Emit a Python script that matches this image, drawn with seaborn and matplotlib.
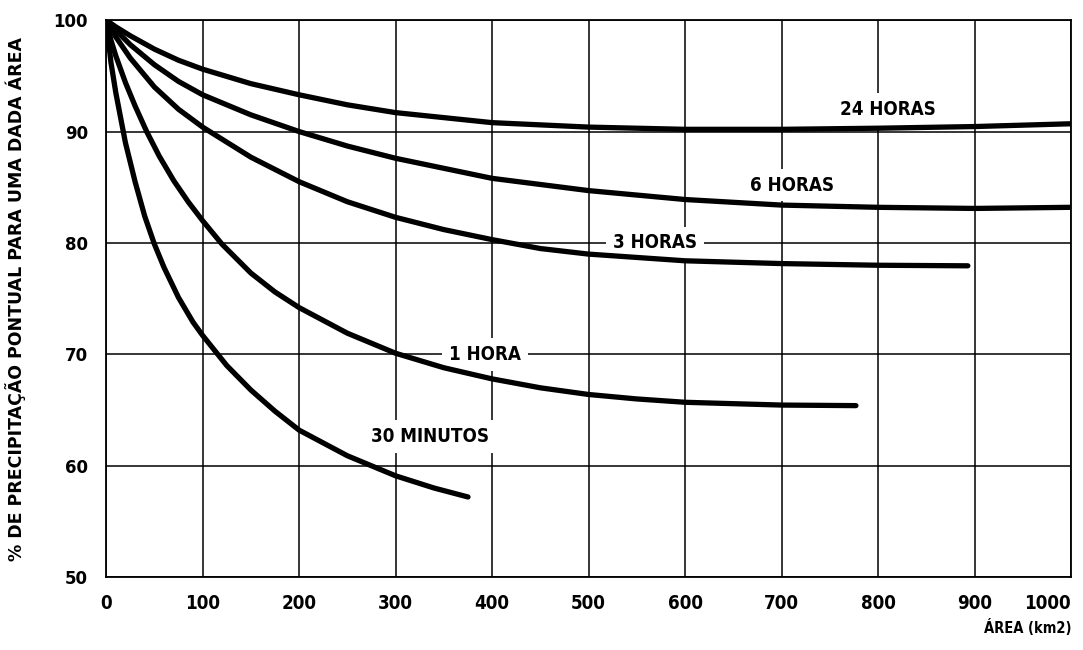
"""Redução da precipitação pontual com a área, por duração da chuva."""

import matplotlib

matplotlib.use("Agg")

import matplotlib.pyplot as plt
import pandas as pd
import seaborn as sns
from matplotlib import font_manager

# --------------------------------------------------------------------------- #
# dados
# --------------------------------------------------------------------------- #
area_30min = [0, 5, 10, 20, 30, 40, 50, 60, 75, 90, 100, 125, 150, 175, 200, 250, 300, 340, 375]
pct_30min = [100, 96.2, 93.5, 89.0, 85.5, 82.4, 79.9, 77.8, 75.1, 72.9, 71.7, 69.0, 66.8, 64.9,
             63.2, 60.9, 59.1, 58.0, 57.2]

area_1h = [0, 5, 10, 20, 30, 42, 55, 70, 85, 100, 120, 150, 175, 200, 250, 300, 350, 400, 450,
           500, 550, 600, 700, 777]
pct_1h = [100, 98.2, 96.8, 94.4, 92.3, 90.0, 87.8, 85.6, 83.7, 82.0, 79.9, 77.3, 75.6, 74.2,
          71.9, 70.1, 68.8, 67.8, 67.0, 66.4, 66.0, 65.7, 65.45, 65.4]

area_3h = [0, 10, 25, 50, 75, 100, 150, 200, 250, 300, 350, 400, 450, 500, 600, 700, 800, 893]
pct_3h = [100, 98.5, 96.6, 94.0, 92.0, 90.4, 87.7, 85.5, 83.7, 82.3, 81.2, 80.3, 79.5, 79.0,
          78.4, 78.15, 78.0, 77.95]

area_6h = [0, 10, 25, 50, 75, 100, 150, 200, 250, 300, 400, 500, 600, 700, 800, 900, 1000]
pct_6h = [100, 99.1, 97.8, 96.0, 94.5, 93.3, 91.5, 90.0, 88.7, 87.6, 85.8, 84.7, 83.9, 83.4,
          83.2, 83.1, 83.2]

area_24h = [0, 10, 25, 50, 75, 100, 150, 200, 250, 300, 400, 500, 600, 700, 800, 900, 1000]
pct_24h = [100, 99.4, 98.6, 97.4, 96.4, 95.6, 94.3, 93.3, 92.4, 91.7, 90.8, 90.4, 90.2, 90.2,
           90.3, 90.45, 90.7]

durations = ["30 MINUTOS", "1 HORA", "3 HORAS", "6 HORAS", "24 HORAS"]
label_x = [336, 393, 569, 711, 810]
label_y = [62.6, 70.0, 80.0, 85.2, 92.0]

x_ticks = list(range(0, 1001, 100))
y_ticks = list(range(50, 101, 10))

series = [(area_30min, pct_30min), (area_1h, pct_1h), (area_3h, pct_3h),
          (area_6h, pct_6h), (area_24h, pct_24h)]
df = pd.concat(
    [pd.DataFrame({"area": a, "pct": p, "duracao": d}) for (a, p), d in zip(series, durations)],
    ignore_index=True)

# --------------------------------------------------------------------------- #
# gráfico
# --------------------------------------------------------------------------- #
sns.set_style("white")
plt.rcParams["font.family"] = ["DejaVu Sans"]
plt.rcParams["text.color"] = "black"
plt.rcParams["axes.labelcolor"] = "black"
plt.rcParams["xtick.color"] = "black"
plt.rcParams["ytick.color"] = "black"

narrow = font_manager.FontProperties(family="DejaVu Sans", stretch="condensed", weight="bold")
wide = font_manager.FontProperties(family="DejaVu Sans", stretch="normal", weight="bold")

fig = plt.figure(figsize=(10.83, 6.5), dpi=100)
ax = fig.add_axes([0.098, 0.112, 0.891, 0.857])

ax.set_axisbelow(True)
ax.grid(True, color="black", lw=1.1)
for side in ("left", "right", "top", "bottom"):
    ax.spines[side].set_visible(True)
    ax.spines[side].set_color("black")
    ax.spines[side].set_linewidth(1.3)

sns.lineplot(data=df, x="area", y="pct", units="duracao", estimator=None,
             color="black", lw=3.8, solid_capstyle="round", solid_joinstyle="round",
             sort=False, ax=ax, zorder=3)

# rótulos das curvas, com fundo branco que interrompe a grade
for txt, lx, ly in zip(durations, label_x, label_y):
    ax.text(lx, ly, txt, ha="center", va="center", fontproperties=narrow, fontsize=13.5,
            zorder=2, bbox=dict(facecolor="white", edgecolor="none", pad=5))

ax.set_xlim(0, 1000)
ax.set_ylim(50, 100)
ax.set_xticks(x_ticks)
ax.set_yticks(y_ticks)
ax.tick_params(axis="both", direction="out", length=5, width=1.1, color="black")
ax.tick_params(axis="x", pad=7)
ax.tick_params(axis="y", pad=8)
for lab in ax.get_xticklabels():
    lab.set_fontproperties(narrow)
    lab.set_fontsize(13.5)
ax.get_xticklabels()[-1].set_horizontalalignment("right")
for lab in ax.get_yticklabels():
    lab.set_fontproperties(wide)
    lab.set_fontsize(12)

ax.set_xlabel("")
ax.set_ylabel("% DE PRECIPITAÇÃO PONTUAL PARA UMA DADA ÁREA", fontproperties=wide,
              fontsize=12.5)
ax.yaxis.set_label_coords(-0.083, 0.5)
fig.text(0.989, 0.034, "ÁREA (km2)", ha="right", va="center", fontproperties=narrow,
         fontsize=10.5)

fig.savefig("out.png", dpi=100)
plt.close(fig)
